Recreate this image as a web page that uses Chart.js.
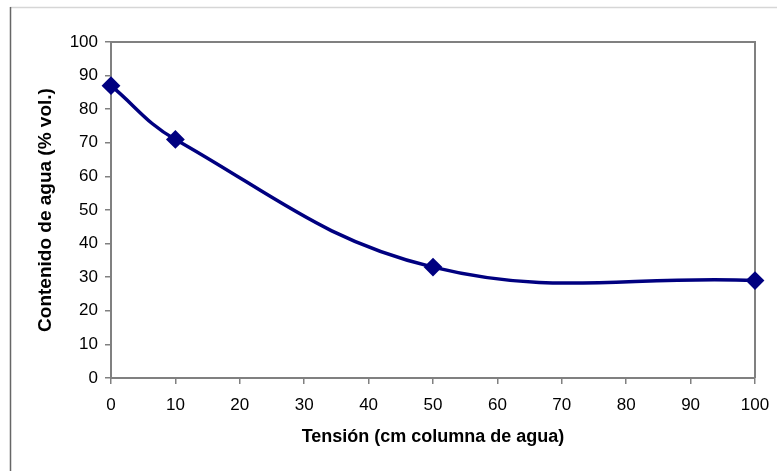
<!DOCTYPE html>
<html>
<head>
<meta charset="utf-8">
<script src="https://cdn.jsdelivr.net/npm/chart.js@4/dist/chart.umd.min.js"></script>
<style>
  html, body { margin: 0; padding: 0; background: #fff; }
  #wrap { width: 777px; height: 471px; }
</style>
</head>
<body>
<div id="wrap"><canvas id="chart" width="777" height="471"></canvas></div>
<script>
// Water retention data
const tension = [0, 10, 50, 100];
const waterContent = [87, 71, 33, 29];
const xTicks = [0, 10, 20, 30, 40, 50, 60, 70, 80, 90, 100];
const yTicks = [0, 10, 20, 30, 40, 50, 60, 70, 80, 90, 100];

const navy = '#000080';
const axisGray = '#808080';
const fontFamily = 'Liberation Sans, Arial, sans-serif';

// frame round the whole chart and border round the plot area
const framePlugin = {
  id: 'frame',
  beforeDraw(chart) {
    const ctx = chart.ctx;
    ctx.save();
    ctx.fillStyle = '#ffffff';
    ctx.fillRect(0, 0, chart.width, chart.height);
    ctx.strokeStyle = '#d6d6d6';
    ctx.lineWidth = 1.5;
    ctx.beginPath();
    ctx.moveTo(10, 7.5);
    ctx.lineTo(chart.width, 7.5);
    ctx.stroke();
    ctx.strokeStyle = '#666666';
    ctx.beginPath();
    ctx.moveTo(10.5, 7);
    ctx.lineTo(10.5, chart.height);
    ctx.stroke();
    ctx.restore();
  },
  beforeDatasetsDraw(chart) {
    const a = chart.chartArea;
    const ctx = chart.ctx;
    ctx.save();
    ctx.strokeStyle = axisGray;
    ctx.lineWidth = 2;
    ctx.beginPath();
    ctx.moveTo(a.left, a.top);
    ctx.lineTo(a.right, a.top);
    ctx.lineTo(a.right, a.bottom);
    ctx.stroke();
    ctx.restore();
  }
};

const points = tension.map((t, i) => ({ x: t, y: waterContent[i] }));

new Chart(document.getElementById('chart'), {
  type: 'scatter',
  data: {
    datasets: [{
      data: points,
      showLine: true,
      tension: 0.4,
      borderColor: navy,
      borderWidth: 3.5,
      backgroundColor: navy,
      pointStyle: 'rectRot',
      pointRadius: 8,
      pointBorderWidth: 2,
      pointBorderColor: navy,
      pointBackgroundColor: navy,
      clip: false
    }]
  },
  options: {
    responsive: false,
    animation: false,
    layout: { padding: { left: 0, top: 42, right: 22, bottom: 0 } },
    plugins: {
      legend: { display: false },
      tooltip: { enabled: false }
    },
    scales: {
      x: {
        type: 'linear',
        min: 0,
        max: 100,
        afterFit(scale) {
          scale.height = 93;
          scale.paddingLeft = 0;
          scale.paddingRight = 0;
        },
        afterBuildTicks(scale) { scale.ticks = xTicks.map(v => ({ value: v })); },
        grid: { drawOnChartArea: false, color: axisGray, tickLength: 6, lineWidth: 1.5 },
        border: { color: axisGray, width: 2 },
        ticks: {
          color: '#000',
          padding: 11,
          maxRotation: 0,
          font: { family: fontFamily, size: 17 }
        },
        title: {
          display: true,
          text: 'Tensión (cm columna de agua)',
          color: '#000',
          padding: { top: 0, bottom: 23 },
          font: { family: fontFamily, size: 18, weight: 'bold' }
        }
      },
      y: {
        type: 'linear',
        min: 0,
        max: 100,
        afterFit(scale) {
          scale.width = 111;
          scale.paddingTop = 0;
          scale.paddingBottom = 0;
        },
        afterBuildTicks(scale) { scale.ticks = yTicks.map(v => ({ value: v })); },
        grid: { drawOnChartArea: false, color: axisGray, tickLength: 6, lineWidth: 1.5 },
        border: { color: axisGray, width: 2 },
        ticks: {
          color: '#000',
          padding: 7,
          font: { family: fontFamily, size: 17 }
        },
        title: {
          display: true,
          text: 'Contenido de agua (% vol.)',
          color: '#000',
          padding: { top: 34, bottom: 0 },
          font: { family: fontFamily, size: 19, weight: 'bold' }
        }
      }
    }
  },
  plugins: [framePlugin]
});
</script>
</body>
</html>
